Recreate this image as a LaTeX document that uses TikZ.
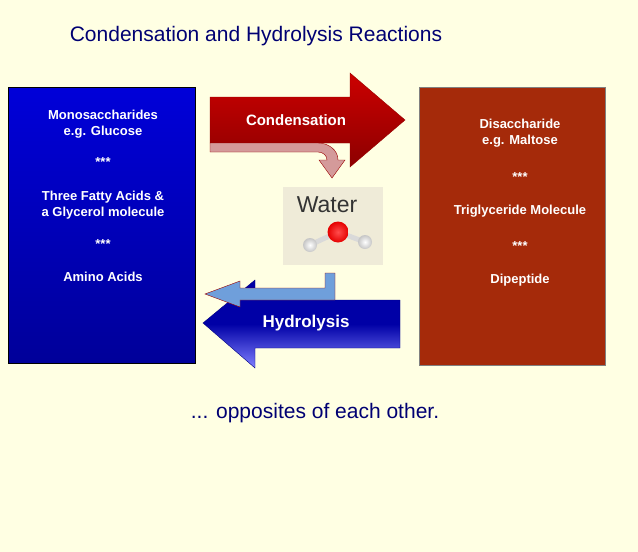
\documentclass[tikz,border=0pt]{standalone}
\usepackage{fontspec}
\setmainfont{Liberation Sans}
\begin{document}
\begin{tikzpicture}[x=1pt,y=-1pt,
 wt/.style={text=white,font=\bfseries\fontsize{13}{16}\selectfont,align=center},
 navy/.style={text=blue!45!black,font=\fontsize{21}{25}\selectfont}]
\definecolor{bg}{HTML}{FFFFE3}
\definecolor{dred}{HTML}{A52A0A}
\definecolor{wbg}{HTML}{EFEBD8}
\definecolor{pinkar}{HTML}{D49A9A}
\definecolor{bluear}{HTML}{6F9FDB}
\path[fill=bg] (0,0) rectangle (638,552);
\useasboundingbox (0,0) rectangle (638,552);
\node[navy] (title) at (256,36) {Condensation and Hydrolysis Reactions};
\node[draw=black,line width=1.2pt,top color=blue!85!black,bottom color=blue!60!black,minimum width=187pt,minimum height=276pt,anchor=north west] (L) at (8,87) {};
\node[draw=gray,line width=1pt,fill=dred,minimum width=186pt,minimum height=278pt,anchor=north west] (R) at (419,87) {};
\node[wt] (l1) at (103,124) {Monosaccharides\\e.g. Glucose};
\node[wt] at (103,162) {***};
\node[wt] (l2) at (103,205) {Three Fatty Acids \&\\a Glycerol molecule};
\node[wt] at (103,244) {***};
\node[wt] (l3) at (103,277) {Amino Acids};
\node[wt] (r1) at (520,133) {Disaccharide\\e.g. Maltose};
\node[wt] at (520,177) {***};
\node[wt] (r2) at (520,211) {Triglyceride Molecule};
\node[wt] at (520,246) {***};
\node[wt] (r3) at (520,280) {Dipeptide};
% condensation arrow
\draw[draw=red!60!black,top color=red!80!black,bottom color=red!55!black] (210,97) -- (350,97) -- (350,73) -- (405,120) -- (350,167) -- (350,143) -- (210,143) -- cycle;
\node[wt,font=\bfseries\fontsize{15}{18}\selectfont] (cond) at (296,120) {Condensation};
% pink bent arrow
\draw[draw=red!60!black,fill=pinkar] (210,143) -- (318,143) to[out=0,in=90] (338,160) -- (345,160) -- (332,178) -- (319,160) -- (327,160) to[out=90,in=0] (318,152) -- (210,152) -- cycle;
% water
\node[fill=wbg,minimum width=100pt,minimum height=78pt,anchor=north west] (wbox) at (283,187) {};
\node[font=\fontsize{23}{27}\selectfont,text=black!80] (wtxt) at (327,205) {Water};
\draw[white!70!gray,line width=5pt] (310,245) -- (338,232) -- (365,242);
\shade[inner color=white,outer color=white!55!gray] (310,245) circle (7);
\shade[inner color=white,outer color=white!55!gray] (365,242) circle (7);
\shade[inner color=red!70!white,outer color=red!90!black] (338,232) circle (10.5);
% hydrolysis arrow
\draw[draw=blue!50!black,top color=blue!65!black,bottom color=blue!50!white,middle color=blue!65!black] (400,300) -- (255,300) -- (255,280) -- (203,323) -- (255,368) -- (255,348) -- (400,348) -- cycle;
\node[wt,font=\bfseries\fontsize{17}{20}\selectfont] (hyd) at (306,323) {Hydrolysis};
% light blue bent arrow
\draw[draw=red!60!black,fill=bluear] (325,273) -- (335,273) -- (335,300) -- (240,300) -- (240,307) -- (205,294) -- (240,281) -- (240,288) -- (325,288) -- cycle;
\node[navy] (bot) at (315,413) {... opposites of each other.};
\end{tikzpicture}
\end{document}
